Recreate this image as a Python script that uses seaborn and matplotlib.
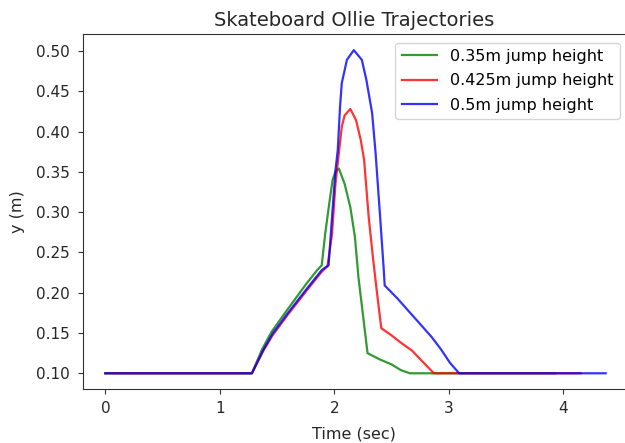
import matplotlib
matplotlib.use("Agg")
import matplotlib.pyplot as plt
import seaborn as sns
import pandas as pd

series_names = ["0.35m jump height", "0.425m jump height", "0.5m jump height"]
series_colors = ["green", "red", "blue"]

t_035 = [0.0, 1.28, 1.37, 1.45, 1.58, 1.75, 1.85, 1.89, 1.92, 1.96, 1.985, 2.01, 2.04, 2.09, 2.14, 2.18, 2.21, 2.29, 2.40, 2.50, 2.58, 2.66, 3.93]
y_035 = [0.1, 0.1, 0.13, 0.151, 0.177, 0.21, 0.228, 0.234, 0.273, 0.315, 0.34, 0.35, 0.354, 0.335, 0.306, 0.269, 0.22, 0.125, 0.117, 0.111, 0.104, 0.1, 0.1]

t_0425 = [0.0, 1.28, 1.38, 1.46, 1.59, 1.76, 1.89, 1.94, 1.98, 2.01, 2.04, 2.065, 2.09, 2.14, 2.19, 2.23, 2.26, 2.30, 2.34, 2.37, 2.41, 2.50, 2.59, 2.68, 2.76, 2.87, 4.15]
y_0425 = [0.1, 0.1, 0.128, 0.147, 0.172, 0.203, 0.226, 0.233, 0.273, 0.335, 0.374, 0.406, 0.42, 0.428, 0.414, 0.39, 0.365, 0.294, 0.24, 0.203, 0.156, 0.147, 0.137, 0.128, 0.116, 0.1, 0.1]

t_05 = [0.0, 1.28, 1.38, 1.46, 1.59, 1.76, 1.89, 1.95, 1.98, 2.01, 2.03, 2.05, 2.065, 2.11, 2.17, 2.24, 2.28, 2.33, 2.36, 2.40, 2.43, 2.44, 2.55, 2.65, 2.75, 2.85, 2.93, 3.01, 3.09, 4.37]
y_05 = [0.1, 0.1, 0.129, 0.149, 0.174, 0.205, 0.228, 0.234, 0.294, 0.352, 0.377, 0.431, 0.46, 0.489, 0.501, 0.489, 0.464, 0.423, 0.374, 0.294, 0.232, 0.209, 0.193, 0.177, 0.161, 0.145, 0.13, 0.113, 0.1, 0.1]

x_ticks = [0, 1, 2, 3, 4]
y_ticks = [0.10, 0.15, 0.20, 0.25, 0.30, 0.35, 0.40, 0.45, 0.50]
y_tick_labels = ["0.10", "0.15", "0.20", "0.25", "0.30", "0.35", "0.40", "0.45", "0.50"]

frames = []
for name, t, y in zip(series_names, [t_035, t_0425, t_05], [y_035, y_0425, y_05]):
    frames.append(pd.DataFrame({"t": t, "y": y, "series": name}))
df = pd.concat(frames, ignore_index=True)

plt.rcParams["font.family"] = ["DejaVu Sans"]
plt.rcParams["savefig.bbox"] = "standard"
W, H = 625, 443
ax_l, ax_r, ax_t, ax_b = 83, 625, 34, 389
fig = plt.figure(figsize=(W / 100, H / 100), dpi=100)
ax = fig.add_axes([ax_l / W, (H - ax_b) / H, (ax_r - ax_l) / W, (ax_b - ax_t) / H])

sns.lineplot(data=df, x="t", y="y", hue="series", hue_order=series_names,
             palette=dict(zip(series_names, series_colors)), sort=False,
             estimator=None, units="series", alpha=0.8, linewidth=1.6,
             legend=False, ax=ax)

ax.set_xlim(-0.195, -0.195 + (ax_r - ax_l) / 114.5)
ax.set_ylim(0.0805, 0.521)
ax.set_xticks(x_ticks)
ax.set_yticks(y_ticks)
ax.set_yticklabels(y_tick_labels)
ax.tick_params(labelsize=11, colors="#333333", labelcolor="#262626")
ax.tick_params(axis="y", pad=6)
ax.tick_params(axis="x", pad=5)
for s in ax.spines.values():
    s.set_color("#333333")
ax.spines["right"].set_visible(False)
ax.set_xlabel("Time (sec)", fontsize=11.5, color="#262626", labelpad=8)
ax.set_ylabel("y (m)", fontsize=11.5, color="#262626", labelpad=8)
ax.set_title("Skateboard Ollie Trajectories", fontsize=14, color="#262626")
leg = ax.legend(ax.lines, series_names, loc="upper right", fontsize=11.5,
                borderaxespad=0, labelspacing=0.6, handlelength=2.2,
                bbox_to_anchor=((619.5 - ax_l) / (ax_r - ax_l), (ax_b - 42.5) / (ax_b - ax_t)))
fig.savefig("out.png", dpi=100)
